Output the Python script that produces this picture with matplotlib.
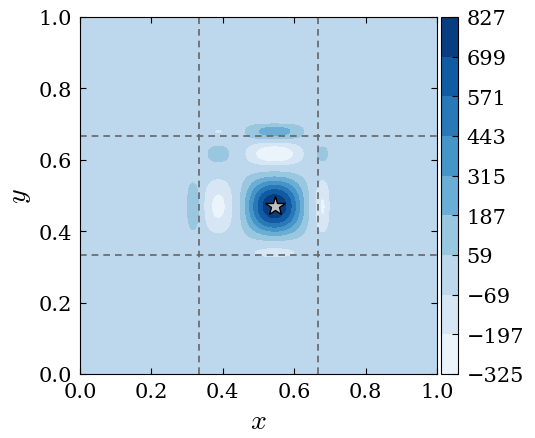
import numpy as np
import matplotlib
matplotlib.use("Agg")
import matplotlib.pyplot as plt

# lobe boundaries (zero crossings) and lobe heights of the separable response
X_LOBE_EDGES = [0.295, 0.338, 0.437, 0.653, 0.706, 0.760]
X_LOBE_PEAKS = [0.16, -0.29, 1.0, -0.26, 0.05]
Y_LOBE_EDGES = [0.280, 0.318, 0.362, 0.578, 0.655, 0.704]
Y_LOBE_PEAKS = [0.04, -0.15, 1.0, -0.3925, 0.31]
PEAK_VALUE = 827.0

LEVELS = [-325, -197, -69, 59, 187, 315, 443, 571, 699, 827]
BEST = (0.545, 0.47)
GUIDES = [1 / 3, 2 / 3]


def profile(t, edges, peaks, main_power=1.5):
    out = np.zeros_like(t)
    for lo, hi, amp in zip(edges[:-1], edges[1:], peaks):
        inside = (t >= lo) & (t <= hi)
        s = np.sin(np.pi * (t[inside] - lo) / (hi - lo))
        power = main_power if amp == max(peaks) else 1.0
        out[inside] = amp * s ** power
    return out


plt.rcParams.update({
    "font.family": "serif",
    "font.serif": ["DejaVu Serif"],
    "mathtext.fontset": "cm",
    "font.size": 15,
    "xtick.direction": "in",
    "ytick.direction": "in",
    "xtick.top": True,
    "ytick.right": True,
    "xtick.major.size": 4,
    "ytick.major.size": 4,
    "xtick.major.pad": 6,
    "ytick.major.pad": 6,
})

grid = np.linspace(0, 1, 501)
px = profile(grid, X_LOBE_EDGES, X_LOBE_PEAKS)
py = profile(grid, Y_LOBE_EDGES, Y_LOBE_PEAKS)
field = PEAK_VALUE * np.outer(py, px)
field = np.clip(field, LEVELS[0], LEVELS[-1])

fig = plt.figure(figsize=(5.35, 4.39), dpi=100)
ax = fig.add_axes([0.1495, 0.1458, 0.6673, 0.8132])
cax = fig.add_axes([0.8243, 0.1458, 0.0318, 0.8132])

cs = ax.contourf(grid, grid, field, levels=LEVELS, cmap="Blues")
for g in GUIDES:
    ax.axvline(g, color="0.4", lw=1.2, dashes=(4, 3))
    ax.axhline(g, color="0.4", lw=1.2, dashes=(4, 3))
ax.plot(*BEST, marker="*", markersize=15, color="silver",
        markeredgecolor="black", markeredgewidth=1)

ax.set_xlim(0, 1)
ax.set_ylim(0, 1)
ax.set_xticks(np.arange(0, 1.01, 0.2))
ax.set_yticks(np.arange(0, 1.01, 0.2))
ax.set_xlabel("$x$", fontsize=20)
ax.set_ylabel("$y$", fontsize=20)

cb = fig.colorbar(cs, cax=cax, ticks=LEVELS)
cb.ax.tick_params(direction="in", length=4)

fig.savefig("out.png", dpi=100)
